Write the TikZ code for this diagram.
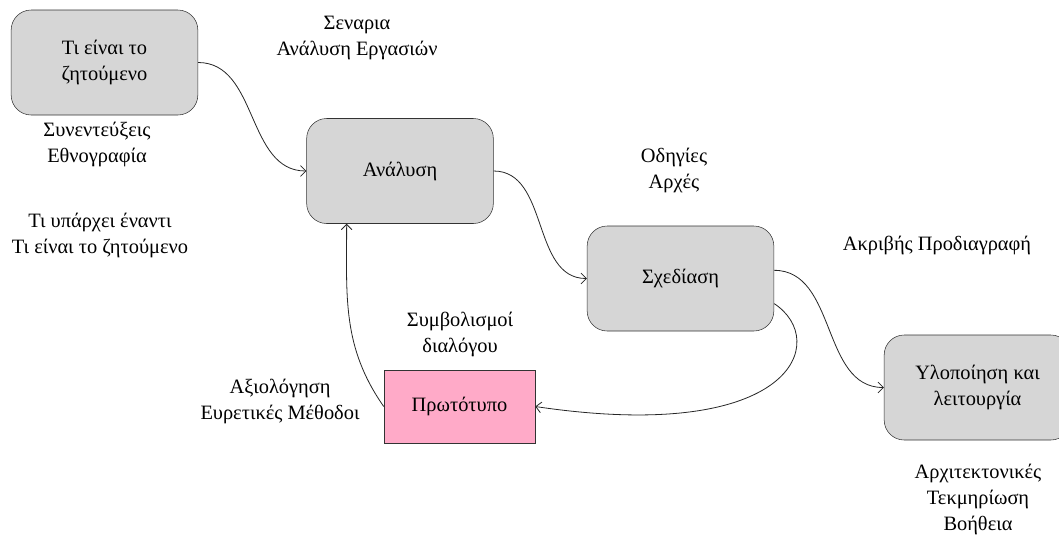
\documentclass[tikz,border=0pt]{standalone}
\usepackage{fontspec}
\setmainfont{Liberation Serif}
\usetikzlibrary{arrows,arrows.meta,shapes,positioning,calc}
\definecolor{stagegray}{RGB}{214,214,214}
\definecolor{protopink}{RGB}{255,170,200}

\begin{document}
\begin{tikzpicture}
			[x=0.75pt, y=-0.75pt,
			 >={Straight Barb[length=4pt,width=8pt]},
			 stage/.style={rectangle, rounded corners=15pt, draw=black!80, fill=stagegray, minimum width=140pt, minimum height=78.75pt, align=center, font=\fontsize{15.3}{19.5}\selectfont},
			 proto/.style={rectangle, draw=black!80, fill=protopink, minimum width=113.25pt, minimum height=54.75pt, align=center, font=\fontsize{15.3}{19.5}\selectfont},
			 note/.style={align=center, font=\fontsize{15.3}{19.5}\selectfont},
			 flow/.style={->, line width=0.6pt, draw=black!85}]
			\useasboundingbox (0,0) rectangle (1059,536);
			\node[stage] (Req) at (104.5, 62.5) {Τι είναι το\\ζητούμενο};
			\node[stage] (Ana) at (400, 171) {Ανάλυση};
			\node[stage] (Sch) at (680.5, 278.5) {Σχεδίαση};
			\node[stage] (Impl) at (977.5, 387.5) {Υλοποίηση και\\λειτουργία};
			\node[proto] (Proto) at (459.5, 406.5) {Πρωτότυπο};

			\node[note] (nScen) at (357, 38) {Σεναρια\\Ανάλυση Εργασιών};
			\node[note] (nInt) at (97, 144) {Συνεντεύξεις\\Εθνογραφία};
			\node[note] (nExist) at (100, 235) {Τι υπάρχει έναντι\\Τι είναι το ζητούμενο};
			\node[note] (nGuide) at (674, 170) {Οδηγίες\\Αρχές};
			\node[note] (nSpec) at (937, 245) {Ακριβής Προδιαγραφή};
			\node[note] (nDial) at (460, 334) {Συμβολισμοί\\διαλόγου};
			\node[note] (nEval) at (280, 401) {Αξιολόγηση\\Ευρετικές Μέθοδοι};
			\node[note] (nArch) at (978, 499) {Αρχιτεκτονικές\\Τεκμηρίωση\\Βοήθεια};

			\draw[flow] (Req.east) to [out=0,in=180] (Ana.west);
			\draw[flow] (Ana.east) to [out=0,in=180] (Sch.west);
			\draw[flow] (Sch.5) to [out=0,in=180] (Impl.west);
			\draw[flow] (Sch.-15) .. controls (830,340) and (795,445) .. (Proto.east);
			\draw[flow] (Proto.west) to [out=125,in=-90] ($(Ana.south west)!0.215!(Ana.south east)$);
\end{tikzpicture}
\end{document}
